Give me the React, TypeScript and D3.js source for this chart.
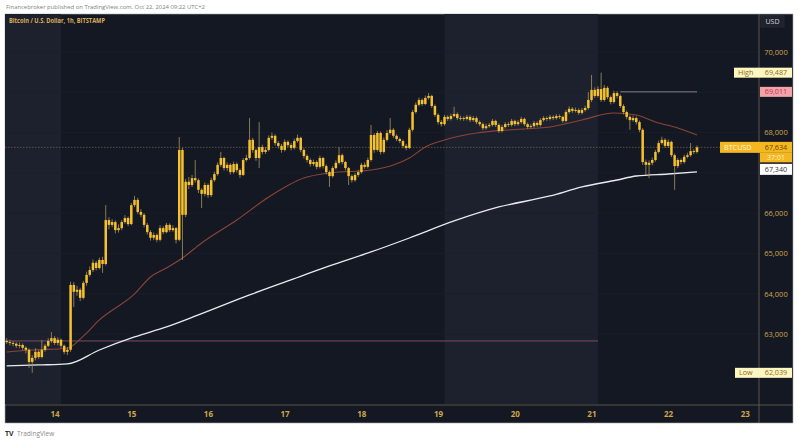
import React from 'react';
import * as d3 from 'd3';

// ---------- data (BTC/USD, Bitstamp, 1h candles, Oct 13 07:00 → Oct 22 07:00) ----------
const firstOpen = 62830;
const closes = [
  62800,62780,62760,62710,62730,62660,62610,62310,62410,62560,
  62430,62610,62710,62830,62900,62780,62860,62710,62560,62610,
  64220,64050,64100,63900,64270,64470,64590,64770,64640,64840,
  64740,65830,65710,65780,65580,65630,65780,65880,65730,66200,
  66330,66030,65960,65710,65530,65390,65460,65340,65630,65530,
  65710,65580,65630,65340,67570,65960,66780,66700,66870,66820,
  66580,66480,66700,66450,66820,66970,67200,67370,67120,67200,
  67020,67220,67070,66950,67320,67370,67820,67570,67370,67640,
  67520,67570,67870,67920,67740,67670,67570,67770,67690,67620,
  67790,67870,67570,67420,67320,67220,67270,67150,67370,67170,
  67020,66920,67120,67250,67440,67270,67120,66920,66820,66950,
  67020,67200,67150,67320,67940,67570,67990,67520,67820,67990,
  68070,67920,67840,67790,67670,67620,68070,68510,68690,68810,
  68710,68860,68910,68660,68440,68260,68210,68390,68340,68410,
  68460,68360,68360,68340,68390,68310,68360,68260,68210,68110,
  68160,68190,68290,68190,68040,68140,68210,68190,68290,68210,
  68260,68340,68210,68140,68160,68240,68190,68310,68360,68340,
  68390,68360,68410,68390,68290,68510,68590,68540,68560,68490,
  68560,68610,68810,69060,68910,69080,68810,69110,68880,68760,
  68980,68910,68660,68510,68390,68310,68360,68260,68070,67270,
  67200,67250,67320,67520,67740,67820,67670,67770,67440,67170,
  67320,67270,67400,67440,67540,67520,67634,
];
const highs = [
  62900,62860,62830,62800,62790,62770,62700,62650,62480,62650,
  62600,62850,62760,62900,63050,62950,62920,62890,62740,62680,
  64300,64290,64200,64150,64320,64550,64680,64850,64820,64900,
  64920,66200,65900,65850,65820,65720,65830,65950,65920,66260,
  66430,66380,66100,66000,65760,65580,65520,65500,65700,65680,
  65760,65750,65700,65660,67890,67620,66850,66900,66950,67320,
  66860,66620,66760,66740,66880,67030,67260,67520,67400,67260,
  67240,67280,67260,67110,67370,67450,68360,67870,67600,68260,
  67700,67640,67930,68000,67960,67790,67720,67830,67810,67740,
  67850,67950,67900,67610,67460,67360,67330,67310,67430,67400,
  67210,67060,67170,67310,67640,67480,67300,67150,66960,67000,
  67080,67250,67260,67380,68190,67990,68040,68030,67880,68060,
  68360,68110,67960,67880,67830,67720,68120,68560,68750,68870,
  68850,68920,68980,68940,68700,68480,68310,68440,68430,68470,
  68640,68500,68420,68400,68440,68430,68410,68400,68300,68250,
  68220,68240,68340,68320,68230,68190,68260,68260,68340,68320,
  68310,68390,68370,68250,68210,68290,68280,68360,68410,68400,
  68440,68430,68460,68450,68420,68560,68650,68630,68620,68600,
  68610,68670,69010,69430,69120,69150,69487,69180,69150,68920,
  69040,69030,68950,68700,68550,68430,68420,68400,68300,68110,
  67330,67310,67380,67570,67800,67900,67860,67830,67800,67480,
  67370,67360,67450,67500,67740,67590,67680,
];
const lows = [
  62760,62720,62700,62660,62650,62600,62520,62160,62039,62350,
  62380,62400,62560,62680,62780,62730,62720,62650,62500,62480,
  62560,63670,63950,63820,63860,64200,64420,64540,64580,64600,
  64520,64700,65600,65650,65500,65520,65580,65740,65680,65700,
  66150,65980,65900,65650,65470,65320,65330,65280,65300,65480,
  65500,65530,65540,65250,65300,64840,65900,66600,66650,66760,
  66500,66130,66420,66380,66400,66780,66930,67150,67060,67050,
  66960,66980,67010,66880,66920,67280,67330,67500,67300,67120,
  67460,67470,67530,67820,67680,67610,67500,67530,67640,67560,
  67580,67750,67510,67360,67260,67160,67170,67090,67110,67110,
  66960,66650,66880,67080,67210,67210,67060,66700,66760,66780,
  66900,66980,67100,67110,67280,67500,67530,67460,67480,67780,
  67950,67870,67790,67740,67610,67560,67590,68030,68470,68650,
  68660,68680,68820,68610,68390,68200,68150,68170,68290,68300,
  68380,68310,68300,68290,68300,68260,68270,68210,68160,68060,
  68070,68120,68150,68140,67990,68000,68100,68140,68150,68160,
  68170,68220,68160,68090,68100,68120,68140,68150,68270,68290,
  68300,68310,68320,68340,68240,68250,68470,68490,68500,68440,
  68450,68520,68570,68760,68860,68870,68760,68770,68830,68700,
  68720,68850,68610,68450,68330,68070,68270,68200,68010,67200,
  66950,66870,67190,67280,67480,67700,67620,67620,67390,66580,
  67120,67210,67230,67360,67400,67470,67480,
];

// moving averages, read at candle indices
const ema200Idx = [0,10,19,29,40,50,60,76,88,101,114,126,140,154,170,180,191,197,207,216];
const ema200Val = [62210,62234,62260,62606,62929,63177,63475,63971,64318,64691,65038,65385,65807,66154,66427,66651,66824,66923,66973,67023];
const ema50Idx = [0,8,19,24,29,40,45,50,55,61,72,82,93,101,114,121,126,131,137,147,157,170,180,190,197,203,210,216];
const ema50Val = [62557,62606,62650,62950,63351,63996,64418,64641,64889,65262,65832,66403,66874,66998,67072,67196,67370,67643,67817,67990,68065,68139,68313,68486,68437,68263,68114,67941];

const dayLabels = ['14','15','16','17','18','19','20','21','22','23'];
const priceTicks = [63000, 64000, 65000, 66000, 68000, 70000];
const gridPrices = [63000, 64000, 65000, 66000, 67000, 68000, 69000, 70000];

const lastPrice = 67634;
const countdown = '37:01';
const highPrice = 69487;
const lowPrice = 62039;
const resistanceLevel = 69011;
const supportLevel = 62830;
const ema200Label = 67340;

const headerText = 'Financebroker published on TradingView.com, Oct 22, 2024 09:22 UTC+2';
const titleText = 'Bitcoin / U.S. Dollar, 1h, BITSTAMP';

export default function App() {
  const plot = { left: 5, right: 758, top: 14, bottom: 404 };
  const x = d3.scaleLinear().domain([0, 216]).range([6.67, 697]);
  const y = d3.scaleLinear().domain([62000, 70000]).range([374.4, 52]);
  const fmt = d3.format(',');
  const dayIdx = (k: number) => 17 + k * 24;

  const opens = closes.map((c, i) => (i === 0 ? firstOpen : closes[i - 1]));
  const cw = 2.5;

  const line = d3
    .line<[number, number]>()
    .x((d) => x(d[0]))
    .y((d) => y(d[1]))
    .curve(d3.curveMonotoneX);
  const ema200Path = line(ema200Idx.map((d, i) => [d, ema200Val[i]]) as [number, number][]) || '';
  const ema50Path = line(ema50Idx.map((d, i) => [d, ema50Val[i]]) as [number, number][]) || '';

  const gold = '#f5c12e';
  const axisText = '#cfa64c';
  const font = "'Open Sans', 'Noto Sans', sans-serif";

  const shades = [
    [plot.left, x(dayIdx(0))],
    [x(dayIdx(5)), x(dayIdx(7))],
  ];

  return (
    <svg
      width={800}
      height={442}
      style={{ position: 'absolute', left: 0, top: 0, background: '#ffffff' }}
      fontFamily={font}
    >
      <defs>
        <clipPath id="plotClip">
          <rect x={plot.left} y={plot.top} width={plot.right - plot.left} height={plot.bottom - plot.top} />
        </clipPath>
      </defs>

      <text x={6} y={9} fontSize={6} fill="#808080" textLength={199} lengthAdjust="spacingAndGlyphs">
        {headerText}
      </text>

      {/* chart frame */}
      <rect x={5} y={14} width={788} height={409} fill="#141823" stroke="#a8a8a8" strokeWidth={0.6} />

      {/* weekend shading */}
      {shades.map((s, i) => (
        <rect key={i} x={s[0]} y={plot.top} width={s[1] - s[0]} height={plot.bottom - plot.top} fill="#1d212d" />
      ))}

      <g clipPath="url(#plotClip)">
        {/* grid */}
        {gridPrices.map((p) => (
          <line key={p} x1={plot.left} x2={plot.right} y1={y(p)} y2={y(p)} stroke="#1c202b" strokeWidth={0.8} />
        ))}

        {/* horizontal levels */}
        <line x1={plot.left} x2={x(185)} y1={y(supportLevel)} y2={y(supportLevel)} stroke="#7a4f5e" strokeWidth={1} />
        <line x1={x(192)} x2={x(216)} y1={y(resistanceLevel)} y2={y(resistanceLevel)} stroke="#8d7c8e" strokeWidth={1} />
        <line
          x1={plot.left}
          x2={plot.right}
          y1={y(lastPrice)}
          y2={y(lastPrice)}
          stroke="#6e6048"
          strokeWidth={0.8}
          strokeDasharray="1.5 1.5"
        />

        {/* moving averages */}
        <path d={ema50Path} fill="none" stroke="#8a4536" strokeWidth={1.1} />
        <path d={ema200Path} fill="none" stroke="#e9eaf0" strokeWidth={1.3} />

        {/* candles */}
        {closes.map((c, i) => {
          const o = opens[i];
          const cx = x(i);
          const top = y(Math.max(o, c));
          const bot = y(Math.min(o, c));
          return (
            <g key={i}>
              <line x1={cx} x2={cx} y1={y(highs[i])} y2={y(lows[i])} stroke="#a89360" strokeWidth={0.8} />
              <rect x={cx - cw / 2} y={top} width={cw} height={Math.max(0.9, bot - top)} fill={gold} />
            </g>
          );
        })}
      </g>

      <text x={9} y={23} fontSize={6.5} fontWeight="bold" fill="#d8b059" textLength={96} lengthAdjust="spacingAndGlyphs">
        {titleText}
      </text>

      {/* axes separators */}
      <line x1={759} x2={759} y1={14} y2={423} stroke="#6e6450" strokeWidth={0.8} />
      <line x1={5} x2={793} y1={405} y2={405} stroke="#6e6450" strokeWidth={0.8} />

      {/* time axis labels */}
      {dayLabels.map((d, k) => (
        <text
          key={d}
          x={x(dayIdx(k)) - 6}
          y={417}
          fontSize={8}
          fontWeight="bold"
          fill={axisText}
          textAnchor="middle"
        >
          {d}
        </text>
      ))}

      {/* price axis */}
      <rect x={761} y={15} width={23} height={12} fill="#1e222d" stroke="#2e3240" strokeWidth={0.6} />
      <text x={772.5} y={24} fontSize={7} fill="#d5d5d5" textAnchor="middle">USD</text>
      {priceTicks.map((p) => (
        <text key={p} x={776} y={y(p) + 2.7} fontSize={7.5} fill={axisText} textAnchor="middle">
          {fmt(p)}
        </text>
      ))}

      {/* High tag */}
      <rect x={734} y={y(highPrice) - 5} width={58} height={10} fill="#fff7c2" />
      <text x={738} y={y(highPrice) + 2.6} fontSize={7.2} fill="#8a6a1a">High</text>
      <text x={776} y={y(highPrice) + 2.6} fontSize={7.2} fill="#8a6a1a" textAnchor="middle">{fmt(highPrice)}</text>

      {/* 69,011 level tag */}
      <rect x={760} y={y(resistanceLevel) - 5} width={32} height={10} fill="#f3a3a8" />
      <text x={776} y={y(resistanceLevel) + 2.6} fontSize={7.2} fill="#c2334a" textAnchor="middle">
        {fmt(resistanceLevel)}
      </text>

      {/* last price tag */}
      <rect x={720} y={y(lastPrice) - 5.5} width={72} height={11} fill="#f4b722" />
      <rect x={760} y={y(lastPrice) + 5.5} width={32} height={9.5} fill="#f4b722" />
      <text x={724} y={y(lastPrice) + 2.7} fontSize={7.2} fill="#fff6dc">BTCUSD</text>
      <text x={776} y={y(lastPrice) + 2.7} fontSize={7.2} fill="#6a4300" textAnchor="middle">{fmt(lastPrice)}</text>
      <text x={776} y={y(lastPrice) + 12.6} fontSize={7} fill="#fff2c8" textAnchor="middle">{countdown}</text>

      {/* EMA 200 tag */}
      <rect x={760} y={y(lastPrice) + 16.5} width={32} height={11} fill="#ffffff" />
      <text x={776} y={y(lastPrice) + 24.6} fontSize={7.2} fill="#333333" textAnchor="middle">{fmt(ema200Label)}</text>

      {/* Low tag */}
      <rect x={735} y={y(lowPrice) - 5} width={57} height={10} fill="#fff7c2" />
      <text x={739} y={y(lowPrice) + 2.6} fontSize={7.2} fill="#8a6a1a">Low</text>
      <text x={776} y={y(lowPrice) + 2.6} fontSize={7.2} fill="#8a6a1a" textAnchor="middle">{fmt(lowPrice)}</text>

      {/* TradingView logo */}
      <text x={5} y={436} fontSize={7} fontWeight="bold" fill="#333333">TV</text>
      <text x={17} y={436} fontSize={6.5} fill="#8a8a8a">TradingView</text>
    </svg>
  );
}
